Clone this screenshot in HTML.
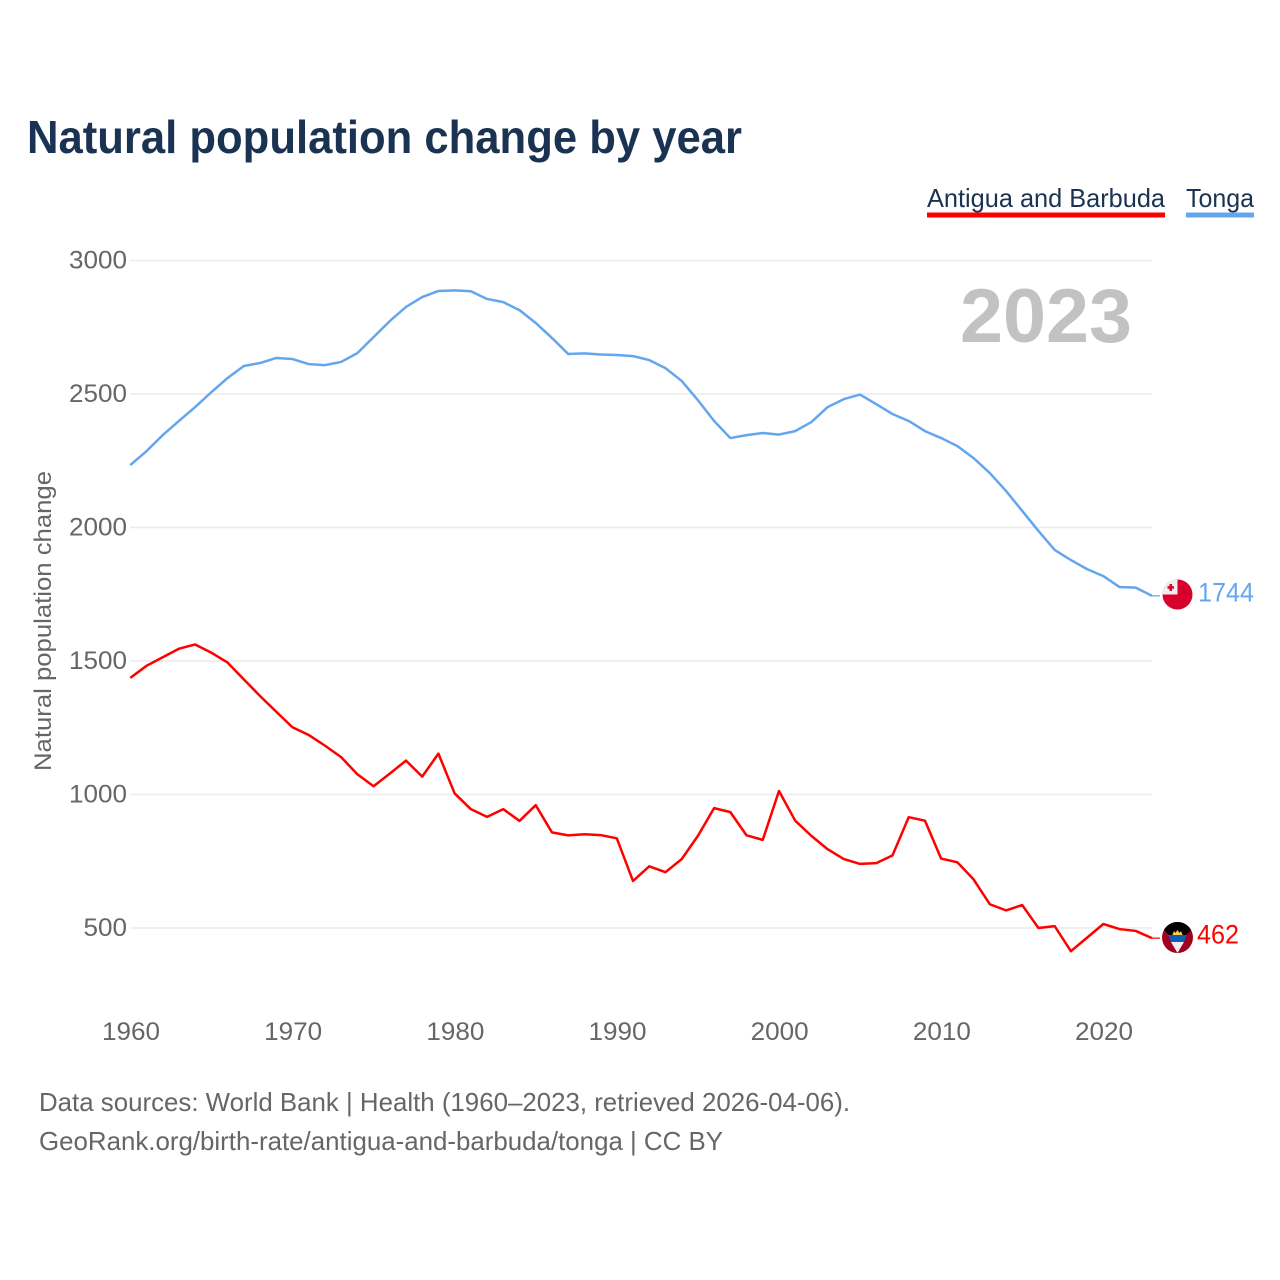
<!DOCTYPE html>
<html lang="en">
<head>
<meta charset="utf-8">
<title>Natural population change by year</title>
<style>
html,body{margin:0;padding:0;background:#fff;}
svg{display:block;font-family:"Liberation Sans",sans-serif;}
</style>
</head>
<body>
<svg id="chart" xmlns="http://www.w3.org/2000/svg" width="1280" height="1280" viewBox="0 0 1280 1280">
  <rect x="0" y="0" width="1280" height="1280" fill="#ffffff"/>
  <text x="27" y="153" font-size="46" font-weight="700" fill="#1a3352" textLength="715" lengthAdjust="spacingAndGlyphs">Natural population change by year</text>

  <g>
    <g>
      <text x="927" y="207" font-size="26" fill="#1a3352" textLength="238" lengthAdjust="spacingAndGlyphs">Antigua and Barbuda</text>
      <rect x="927" y="212.5" width="238" height="5" fill="#ff0000"/>
    </g>
    <g>
      <text x="1186" y="207" font-size="26" fill="#1a3352" textLength="68" lengthAdjust="spacingAndGlyphs">Tonga</text>
      <rect x="1186" y="212.5" width="68" height="5" fill="#64a6ee"/>
    </g>
  </g>

  <g id="grid"></g>
  <g id="yticks"></g>
  <g id="xticks"></g>

  <text transform="translate(51,771) rotate(-90)" x="0" y="0" font-size="24" fill="#666666" textLength="300" lengthAdjust="spacingAndGlyphs">Natural population change</text>

  <text x="960" y="342" font-size="76" font-weight="700" fill="#c2c2c2" textLength="172" lengthAdjust="spacingAndGlyphs">2023</text>

  <g id="lines"></g>

  <defs>
    <clipPath id="flagClipTonga"><circle cx="1177.5" cy="594.5" r="15"/></clipPath>
    <clipPath id="flagClipAntigua"><circle cx="1177.5" cy="937.5" r="15.5"/></clipPath>
  </defs>

  <g clip-path="url(#flagClipTonga)">
    <rect x="1162" y="579" width="31" height="31" fill="#d8002c"/>
    <rect x="1162" y="579" width="15.5" height="15.5" fill="#eeeeee"/>
    <rect x="1169.5" y="584" width="2.5" height="7" fill="#d8002c"/>
    <rect x="1167.5" y="586.2" width="6.5" height="2.5" fill="#d8002c"/>
  </g>

  <g clip-path="url(#flagClipAntigua)">
    <rect x="1161" y="921" width="33" height="33" fill="#a1001f"/>
    <polygon points="1164,922 1191,922 1191,930 1186,935 1169,935 1164,930" fill="#000000"/>
    <polygon points="1172,936 1174,931 1175.5,933 1177.5,930 1179.5,933 1181,931 1183,936" fill="#ffd050"/>
    <polygon points="1168,935 1187,935 1184,942 1171,942" fill="#0f5cb5"/>
    <polygon points="1171,942 1184,942 1177.5,953" fill="#eeeeee"/>
  </g>

  <g id="endlabels"></g>

  <text x="39" y="1111" font-size="26" fill="#666666" textLength="811" lengthAdjust="spacingAndGlyphs">Data sources: World Bank | Health (1960–2023, retrieved 2026-04-06).</text>
  <text x="39" y="1150" font-size="26" fill="#666666" textLength="684" lengthAdjust="spacingAndGlyphs">GeoRank.org/birth-rate/antigua-and-barbuda/tonga | CC BY</text>
</svg>
<script>
const startYear = 1960;
const tongaValues = [2234,2286,2346,2399,2451,2507,2560,2605,2616,2635,2631,2612,2608,2620,2653,2713,2773,2826,2863,2886,2888,2885,2856,2844,2814,2766,2710,2650,2652,2648,2646,2642,2627,2597,2549,2477,2399,2335,2346,2354,2348,2361,2395,2451,2481,2498,2462,2425,2399,2361,2335,2305,2260,2204,2137,2062,1987,1916,1878,1844,1818,1777,1775,1744];
const antiguaValues = [1437,1482,1514,1546,1562,1531,1494,1431,1369,1310,1252,1223,1183,1140,1076,1031,1078,1127,1067,1153,1004,945,916,945,901,960,858,847,851,848,836,676,731,709,758,845,949,934,847,830,1013,902,845,795,758,740,743,772,915,902,760,746,682,589,566,586,500,507,413,464,515,496,489,462];
const yTickValues = [500,1000,1500,2000,2500,3000];
const xTickYears = [1960,1970,1980,1990,2000,2010,2020];

const SVG_NS = 'http://www.w3.org/2000/svg';
function xScale(year){ return 130.3 + (year - 1960) * 16.217; }
function yScale(value){ return 928 - (value - 500) * 0.267; }

function make(tag, attrs, parent){
  const el = document.createElementNS(SVG_NS, tag);
  for (const k in attrs) el.setAttribute(k, attrs[k]);
  parent.appendChild(el);
  return el;
}

const gridGroup = document.getElementById('grid');
const yTickGroup = document.getElementById('yticks');
yTickValues.forEach(function(v){
  const line = make('line', {x1: 130, x2: 1152, y1: yScale(v), y2: yScale(v), stroke: '#ececec', 'stroke-width': 1.5}, gridGroup);
  
  
  const label = String(v);
  const t = make('text', {x: 127, y: yScale(v) + 8, 'font-size': 25, fill: '#666666', 'text-anchor': 'end', textLength: label.length * 14.5, lengthAdjust: 'spacingAndGlyphs'}, yTickGroup);
  t.textContent = label;
  
  
});

const xTickGroup = document.getElementById('xticks');
xTickYears.forEach(function(y){
  const t = make('text', {x: xScale(y) + 0.7, y: 1040, 'font-size': 25, fill: '#666666', 'text-anchor': 'middle', textLength: 58, lengthAdjust: 'spacingAndGlyphs'}, xTickGroup);
  t.textContent = String(y);
  
  
});

function drawSeries(values, color, name){
  const group = document.getElementById('lines');
  const pts = values.map(function(v, i){
    return xScale(startYear + i).toFixed(2) + ',' + yScale(v).toFixed(2);
  }).join(' ');
  const line = make('polyline', {points: pts, fill: 'none', stroke: color, 'stroke-width': 2.5, 'stroke-linejoin': 'round'}, group);
  
  
  const last = values[values.length - 1];
  const lastX = xScale(startYear + values.length - 1);
  const tail = make('line', {x1: lastX, x2: lastX + 8, y1: yScale(last), y2: yScale(last), stroke: color, 'stroke-width': 1.2}, group);
  
  
}
drawSeries(tongaValues, '#64a6ee', 'tonga');
drawSeries(antiguaValues, '#ff0000', 'antigua-and-barbuda');

function drawEndLabel(values, color, name, x){
  const last = values[values.length - 1];
  const label = String(last);
  const t = make('text', {x: x, y: yScale(last) + 5.5, 'font-size': 26.5, fill: color, textLength: label.length * 14, lengthAdjust: 'spacingAndGlyphs'}, document.getElementById('endlabels'));
  t.textContent = label;
  
  
}
drawEndLabel(tongaValues, '#64a6ee', 'tonga', 1198);
drawEndLabel(antiguaValues, '#ff0000', 'antigua-and-barbuda', 1197);
</script>
</body>
</html>
